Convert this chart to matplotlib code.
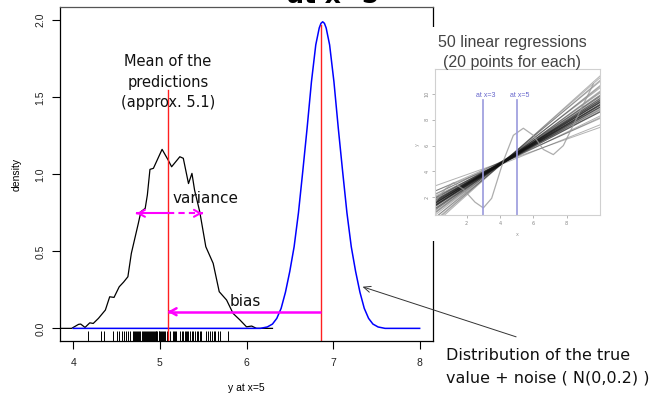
import matplotlib
matplotlib.use('Agg')
import matplotlib.pyplot as plt

# size of the output picture in pixels (dpi 100)
W, H = 655, 398

# main axes: ticks and labels
x_ticks = [4, 5, 6, 7, 8]
y_ticks = [0.0, 0.5, 1.0, 1.5, 2.0]
y_tick_labels = ['0.0', '0.5', '1.0', '1.5', '2.0']

# density of the predictions at x=5 (black curve)
pred_x = [3.85, 3.98, 4.06, 4.085, 4.135, 4.19, 4.23, 4.29, 4.37, 4.42, 4.47, 4.53,
          4.58, 4.63, 4.67, 4.75, 4.78, 4.83, 4.855, 4.885, 4.925, 5.025, 5.095,
          5.135, 5.23, 5.27, 5.33, 5.37, 5.40, 5.46, 5.53, 5.615, 5.685, 5.77,
          5.845, 5.925, 6.0, 6.06, 6.115, 6.3]
pred_y = [0.0, 0.0, 0.026, 0.028, 0.006, 0.036, 0.032, 0.065, 0.119, 0.205, 0.201, 0.27,
          0.30, 0.335, 0.487, 0.68, 0.757, 0.779, 0.866, 1.032, 1.039, 1.162, 1.093,
          1.049, 1.114, 1.104, 0.94, 1.006, 0.898, 0.757, 0.53, 0.422, 0.238, 0.184,
          0.097, 0.054, 0.01, 0.015, 0.0, 0.0]

# density of true value + noise (blue curve)
true_x = [4.0, 6.16, 6.24, 6.30, 6.35, 6.40, 6.45, 6.50, 6.55, 6.60, 6.65, 6.70, 6.75,
          6.80, 6.84, 6.86, 6.88, 6.90, 6.92, 6.96, 7.01, 7.06, 7.11, 7.16, 7.21, 7.26,
          7.31, 7.36, 7.41, 7.46, 7.52, 7.60, 8.0]
true_y = [0.0, 0.0, 0.009, 0.028, 0.065, 0.13, 0.235, 0.37, 0.53, 0.75, 1.02, 1.30, 1.60,
          1.84, 1.95, 1.98, 1.99, 1.98, 1.95, 1.84, 1.60, 1.30, 1.02, 0.75, 0.53, 0.37,
          0.235, 0.13, 0.065, 0.028, 0.009, 0.0, 0.0]

# the single predictions (rug)
rug_x = [4.166, 4.319, 4.358, 4.454, 4.50, 4.531, 4.558, 4.585, 4.608, 4.634, 4.654,
         4.685, 4.70, 4.712, 4.725, 4.74, 4.752, 4.76, 4.775, 4.79, 4.80, 4.812, 4.826,
         4.84, 4.848, 4.86, 4.872, 4.885, 4.895, 4.905, 4.918, 4.93, 4.94, 4.952, 4.96,
         4.972, 4.985, 4.995, 5.005, 5.012, 5.02, 5.035, 5.046, 5.058, 5.077, 5.089,
         5.096, 5.115, 5.146, 5.16, 5.173, 5.19, 5.23, 5.25, 5.269, 5.288, 5.30, 5.315,
         5.327, 5.346, 5.366, 5.377, 5.404, 5.423, 5.442, 5.461, 5.48, 5.538, 5.557,
         5.577, 5.596, 5.623, 5.635, 5.673, 5.692, 5.788]

# mean prediction, true value and the arrows
mean_pred = 5.09
true_val = 6.86
var_lo, var_hi, var_y = 4.73, 5.49, 0.747
bias_y = 0.108

# inset: 50 linear regressions, y value at x=4.2 and slope of each
reg_ymid = [4.75, 4.60, 4.80, 4.70, 4.65, 4.85, 4.72, 4.68, 4.77, 4.63, 4.70, 4.82, 4.66,
            4.74, 4.71, 4.79, 4.64, 4.69, 4.76, 4.73, 4.67, 4.83, 4.70, 4.75, 4.62, 4.78,
            4.71, 4.68, 4.81, 4.74, 4.66, 4.72, 4.77, 4.69, 4.73, 4.84, 4.65, 4.70, 4.76,
            4.68, 4.75, 4.71, 4.67, 4.80, 4.73, 4.64, 4.78, 4.70, 4.72, 4.69]
reg_slope = [0.46, 0.52, 0.57, 0.60, 0.63, 0.65, 0.67, 0.68, 0.69, 0.70, 0.71, 0.72, 0.73,
             0.73, 0.74, 0.75, 0.75, 0.76, 0.76, 0.77, 0.77, 0.78, 0.78, 0.79, 0.79, 0.80,
             0.80, 0.81, 0.81, 0.82, 0.82, 0.83, 0.84, 0.84, 0.85, 0.86, 0.87, 0.88, 0.89,
             0.90, 0.92, 0.94, 0.96, 0.98, 1.01, 1.04, 1.07, 1.10, 1.13, 1.16]
# one overfitted wiggly fit
wig_x = [0.1, 0.7, 1.2, 1.8, 2.5, 3.0, 3.5, 4.2, 4.8, 5.4, 6.0, 6.6, 7.2, 7.8, 8.4, 9.0, 9.6]
wig_y = [1.6, 2.6, 3.1, 2.6, 1.6, 1.15, 1.9, 4.8, 6.8, 7.35, 6.8, 5.7, 5.3, 6.0, 7.6, 9.2, 10.8]
inset_xticks = [2, 4, 6, 8]
inset_yticks = [2, 4, 6, 8, 10]
at_lines = [3, 5]


def px_box(x0, y0, x1, y1):
  # pixel box (top-left origin) -> figure fraction rect
  return [x0 / W, 1 - y1 / H, (x1 - x0) / W, (y1 - y0) / H]


def px_text(fig, x, y, s, **kw):
  # text placed at a pixel position
  return fig.text(x / W, 1 - y / H, s, **kw)


def draw_arrow(ax, head, tail, y, lw, ls='-'):
  # R style open arrow head in magenta
  ax.plot([tail, head], [y, y], color='#ff00ff', lw=lw, ls=ls, solid_capstyle='butt')
  ax.annotate('', xy=(head, y), xytext=(head + (tail - head) * 0.02, y),
              arrowprops=dict(arrowstyle='->,head_length=0.45,head_width=0.25',
                              color='#ff00ff', lw=lw, shrinkA=0, shrinkB=0))


fig = plt.figure(figsize=(W / 100, H / 100), dpi=100)
ax = fig.add_axes(px_box(60, 7, 433, 341))
ax.set_zorder(0)

ax.plot(pred_x, pred_y, color='black', lw=0.9)
ax.plot(true_x, true_y, color='blue', lw=1.1)
ax.vlines(rug_x, 0, 0.03, transform=ax.get_xaxis_transform(), color='black', lw=0.7)

ylo = -0.082
ax.plot([mean_pred, mean_pred], [ylo, 1.55], color='#ff2020', lw=1)
ax.plot([true_val, true_val], [ylo, 1.97], color='#ff2020', lw=1)

# variance: solid to the left, dashed to the right
draw_arrow(ax, var_lo, mean_pred, var_y, 1.5)
draw_arrow(ax, var_hi, mean_pred, var_y, 1.5, ls=(0, (3, 2)))
# bias
draw_arrow(ax, mean_pred, true_val, bias_y, 1.8)

ax.set_xlim(3.846, 8.154)
ax.set_ylim(ylo, 2.086)
ax.set_xticks(x_ticks)
ax.set_xticklabels([str(t) for t in x_ticks])
ax.set_yticks(y_ticks)
ax.set_yticklabels(y_tick_labels, rotation=90, va='center')
ax.tick_params(axis='both', direction='out', length=6, width=0.8, labelsize=7.5,
               colors='black', labelcolor='#222222')
ax.tick_params(axis='x', pad=6.5)
ax.tick_params(axis='y', pad=4.5)
for lab in ax.get_xticklabels() + ax.get_yticklabels():
  lab.set_family('Liberation Sans')
for sp in ax.spines.values():
  sp.set_linewidth(0.9)
ax.spines['top'].set_color('#555555')
ax.set_xlabel('y at x=5', fontsize=7.5, family='Liberation Sans', labelpad=10.5)
ax.set_ylabel('density', fontsize=7.5, family='Liberation Sans', labelpad=10)

# arrow pointing at the true distribution
ax.annotate('', xy=(7.34, 0.27), xytext=(9.114, -0.055), annotation_clip=False,
            arrowprops=dict(arrowstyle='->,head_length=0.5,head_width=0.22',
                            color='#333333', lw=0.7, shrinkA=0, shrinkB=0))

# annotations
ann = dict(family='DejaVu Sans', color='#111111')
px_text(fig, 168, 62, 'Mean of the', ha='center', va='center', fontsize=10.5, **ann)
px_text(fig, 168, 83, 'predictions', ha='center', va='center', fontsize=10.5, **ann)
px_text(fig, 168, 103, '(approx. 5.1)', ha='center', va='center', fontsize=10.5, **ann)
px_text(fig, 173, 198, 'variance', ha='left', va='center', fontsize=11, **ann)
px_text(fig, 245, 301, 'bias', ha='center', va='center', fontsize=11, **ann)
px_text(fig, 446, 356, 'Distribution of the true', ha='left', va='center', fontsize=11.5, **ann)
px_text(fig, 446, 378, 'value + noise ( N(0,0.2) )', ha='left', va='center', fontsize=11.5, **ann)

# big title, mostly cut by the top edge
px_text(fig, 287, 3, 'at x=5', ha='left', va='baseline', fontsize=18, weight='bold',
        family='DejaVu Sans', color='black')

# inset picture: white background covering the right spine
bg = fig.add_axes(px_box(428, 27, 640, 241))
bg.set_zorder(1)
bg.axis('off')
bg.add_patch(plt.Rectangle((0, 0), 1, 1, transform=bg.transAxes, color='white'))
px_text(fig, 512, 43, '50 linear regressions', ha='center', va='center', fontsize=11.5,
        family='Liberation Sans', color='#444444', zorder=5)
px_text(fig, 512, 62, '(20 points for each)', ha='center', va='center', fontsize=11.5,
        family='Liberation Sans', color='#444444', zorder=5)

ins = fig.add_axes(px_box(435, 69, 600, 215))
ins.set_zorder(2)
xs = [0.1, 10.0]
for ym, b in zip(reg_ymid, reg_slope):
  ins.plot(xs, [ym + b * (x - 4.2) for x in xs], color='#111111', alpha=0.32, lw=0.7)
ins.plot(wig_x, wig_y, color='#999999', lw=0.9, alpha=0.8)
for xv in at_lines:
  ins.plot([xv, xv], [0.6, 9.55], color='#9999dd', lw=1.2)
  ins.text(xv + 0.17, 9.86, 'at x=%d' % xv, ha='center', va='center', fontsize=5,
           family='Liberation Sans', color='#6666cc')
ins.set_xlim(0.1, 10.0)
ins.set_ylim(0.6, 11.96)
ins.set_xticks(inset_xticks)
ins.set_xticklabels([str(t) for t in inset_xticks])
ins.set_yticks(inset_yticks)
ins.set_yticklabels([str(t) for t in inset_yticks], rotation=90, va='center')
ins.tick_params(length=2, width=0.6, colors='#aaaaaa', labelsize=3.5, labelcolor='#888888',
                pad=2)
for sp in ins.spines.values():
  sp.set_color('#d0d0d0')
  sp.set_linewidth(0.8)
px_text(fig, 517, 235, 'x', ha='center', va='center', fontsize=3.5, color='#999999')
px_text(fig, 417, 145, 'y', ha='center', va='center', fontsize=3.5, color='#999999',
        rotation=90)

fig.savefig('out.png', dpi=100)
plt.close()
